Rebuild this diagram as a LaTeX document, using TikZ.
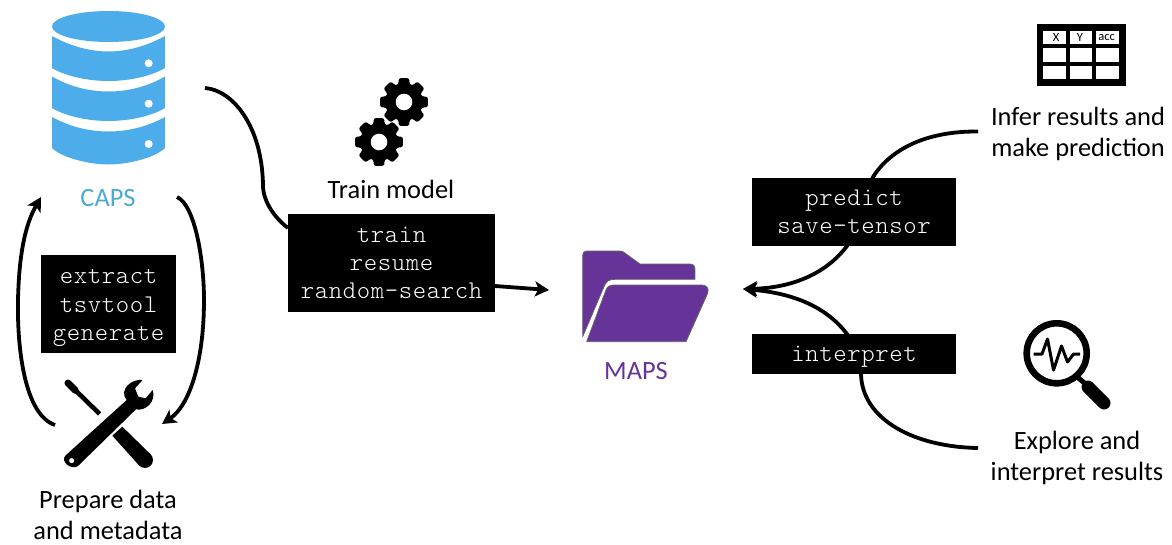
\documentclass[tikz,border=0pt]{standalone}
\usepackage{fontspec}
\setmainfont{Carlito}
\setmonofont[LetterSpace=2.4]{Latin Modern Mono Light}
\usetikzlibrary{arrows.meta}
\definecolor{capsblue}{HTML}{4DADEA}
\definecolor{capstext}{HTML}{4AAAD5}
\definecolor{mapspurple}{HTML}{663399}
\tikzset{
  flow/.style={line width=3.8pt,draw=black},
  tipped/.style={flow,-{Stealth[length=14pt,width=15pt,inset=3.5pt]}},
  cmdbox/.style={fill=black,text=white,inner sep=0pt,align=center,font=\fontsize{25.5}{28.3}\selectfont\ttfamily},
  lbl/.style={inner sep=0pt,align=center,font=\fontsize{26.4}{31}\selectfont},
  folder/.style={fill=mapspurple,draw=black!60,line width=0.8pt,line join=round},
  cellfont/.style={inner sep=0pt,font=\fontsize{12.5}{12.5}\selectfont},
}
\newcommand{\gearicon}[3]{%
  \begin{scope}[shift={(#1,#2)}]
  \fill[black,even odd rule,rounded corners=2.2pt] (78:24.5)
    \foreach \a in {0,45,...,315}{
      -- (\a+78:24.5) -- (\a+102:24.5) -- (\a+108:18.5) -- (\a+117:18.5)
    } -- cycle;
  \fill[white] (0,0) circle[radius=#3];
  \end{scope}}
\begin{document}
\begin{tikzpicture}[x=1pt,y=-1pt]
\useasboundingbox (0,0) rectangle (1172,544);
% coordinates
\coordinate (capsOut) at (205,88);
\coordinate (mapsIn) at (743,289);
\coordinate (mapsInB) at (549,290);
\coordinate (prepOut) at (55,425);
\coordinate (capsIn) at (41,197);
\coordinate (capsOutB) at (177,197);
\coordinate (prepIn) at (162,424);
\coordinate (inferEnd) at (978,131.5);
\coordinate (explEnd) at (978,448);
\coordinate (trainIn) at (288,228);
\coordinate (trainOut) at (495,286);
% connectors
\draw[flow] (capsOut) .. controls (232,90) and (262,125) .. (263,185)
   .. controls (263,202) and (275,218) .. (trainIn);
\draw[tipped] (trainOut) -- (mapsInB);
\draw[tipped] (prepOut) .. controls (25,415) and (17,350) .. (18,300)
   .. controls (19,255) and (25,225) .. (capsIn);
\draw[tipped] (capsOutB) .. controls (195,205) and (204,260) .. (204,300)
   .. controls (204,360) and (190,405) .. (prepIn);
\draw[tipped] (inferEnd) .. controls (925,131) and (890,150) .. (873,177)
   .. controls (862,200) and (860,225) .. (847,246)
   .. controls (825,275) and (790,288) .. (mapsIn);
\draw[tipped] (explEnd) .. controls (915,447) and (862,420) .. (861,374)
   .. controls (860,355) and (855,345) .. (847,334)
   .. controls (825,305) and (790,293) .. (mapsIn);
% database
\fill[capsblue] (108.5,26.5) ellipse[x radius=56.5,y radius=15.5];
\fill[capsblue] (52,36) .. controls (70,46) and (90,51.5) .. (108.5,51.5) .. controls (127,51.5) and (147,46) .. (165,36)
  -- (165,68) .. controls (150,77) and (127,81) .. (108.5,81) .. controls (90,81) and (67,77) .. (52,68) -- cycle;
\fill[capsblue] (52,76.5) .. controls (70,87) and (90,91.5) .. (108.5,91.5) .. controls (127,91.5) and (147,87) .. (165,76.5)
  -- (165,108) .. controls (150,117) and (127,121) .. (108.5,121) .. controls (90,121) and (67,117) .. (52,108) -- cycle;
\fill[capsblue] (52,117) .. controls (70,127) and (90,131.5) .. (108.5,131.5) .. controls (127,131.5) and (147,127) .. (165,117)
  -- (165,148) .. controls (155,158) and (127,164.5) .. (108.5,164.5) .. controls (90,164.5) and (62,158) .. (52,148) -- cycle;
\fill[white] (148.7,63.3) circle[radius=4] (148.7,103.7) circle[radius=4] (148.7,144) circle[radius=4];
\node[lbl,text=capstext] (caps) at (108,198) {CAPS};
% tools
\begin{scope}[shift={(0,340)},x=0.3333pt,y=-0.3333pt]
  \draw[line width=4.6pt] (205,130) -- (299,222);
  \draw[line width=7pt,line cap=round] (204,129) -- (226,151);
  \fill[black] (337,287) -- (367,260) -- (452,343) -- (418,377) -- cycle;
  \fill[black] (435,360) circle[radius=24];
  \fill[black,even odd rule] (380,180) .. controls (355,150) and (395,115) .. (428,120)
     -- (405,145) -- (415,170) -- (437,175) -- (458,150)
     .. controls (470,185) and (435,215) .. (408,208)
     -- (234,378) .. controls (215,392) and (180,365) .. (196,347) -- cycle
     (215,362) circle[radius=8];
\end{scope}
\node[lbl] (prep) at (108,515) {Prepare data\\and metadata};
% gears
\gearicon{404}{102}{8.3}
\gearicon{379}{142}{8.3}
\node[lbl] (trainlbl) at (391,189.5) {Train model};
% folder
\begin{scope}[shift={(560,230)},x=0.3333pt,y=-0.3333pt]
  \draw[folder] (68,320) -- (68,80) .. controls (68,68) and (72,63) .. (82,63) -- (180,63) .. controls (188,63) and (190,66) .. (196,70)
    -- (240,102) -- (390,102) .. controls (400,102) and (405,108) .. (405,118) -- (405,148) -- (165,148)
    .. controls (145,148) and (138,155) .. (132,170) -- cycle;
  \draw[folder] (80,335) -- (138,180) .. controls (142,170) and (148,165) .. (158,165) -- (425,165)
    .. controls (440,165) and (448,175) .. (443,190) -- (378,335) -- cycle;
\end{scope}
\node[lbl,text=mapspurple] (maps) at (636,371) {MAPS};
% table
\fill[black] (1037,24) rectangle (1126,86);
\foreach \cx/\cw in {1043.3/22.4,1070/22.3,1096.3/22.4}{
  \foreach \cy in {31,48.3,66}{
    \fill[white] (\cx,\cy) rectangle (\cx+\cw,\cy+13.2);
  }
}
\node[cellfont] (tx) at (1056,37.7) {X};
\node[cellfont] (ty) at (1080,37.7) {Y};
\node[cellfont] (tacc) at (1106.7,37.7) {acc};
\node[lbl] (infer) at (1078,133.5) {Infer results and\\make prediction};
% magnifier
\draw[line width=6.6pt] (1056.7,353.3) circle[radius=30];
\draw[line width=5pt] (1076,376) -- (1088,386);
\draw[line width=13pt,line cap=round] (1088,387) -- (1104,403);
\draw[line width=3pt,line join=round] (1033.5,354) -- (1042,354) -- (1047.5,339) -- (1053.5,370) -- (1061.5,346) -- (1067.5,362) -- (1073.5,354) -- (1080,354);
\node[lbl] (expl) at (1077,457.5) {Explore and\\interpret results};
% command boxes
\node[cmdbox,minimum width=135pt,minimum height=98pt] (cmdprep) at (108.5,304) {\rule{0pt}{22.6pt}extract\\tsvtool\\generate};
\node[cmdbox,minimum width=207pt,minimum height=98pt] (cmdtrain) at (391.5,263) {train\\resume\\random-search};
\node[cmdbox,minimum width=204pt,minimum height=68pt] (cmdpred) at (854,212) {predict\\save-tensor};
\node[cmdbox,minimum width=204pt,minimum height=40pt] (cmdint) at (854,354) {\rule{0pt}{20.6pt}interpret};
\end{tikzpicture}
\end{document}
